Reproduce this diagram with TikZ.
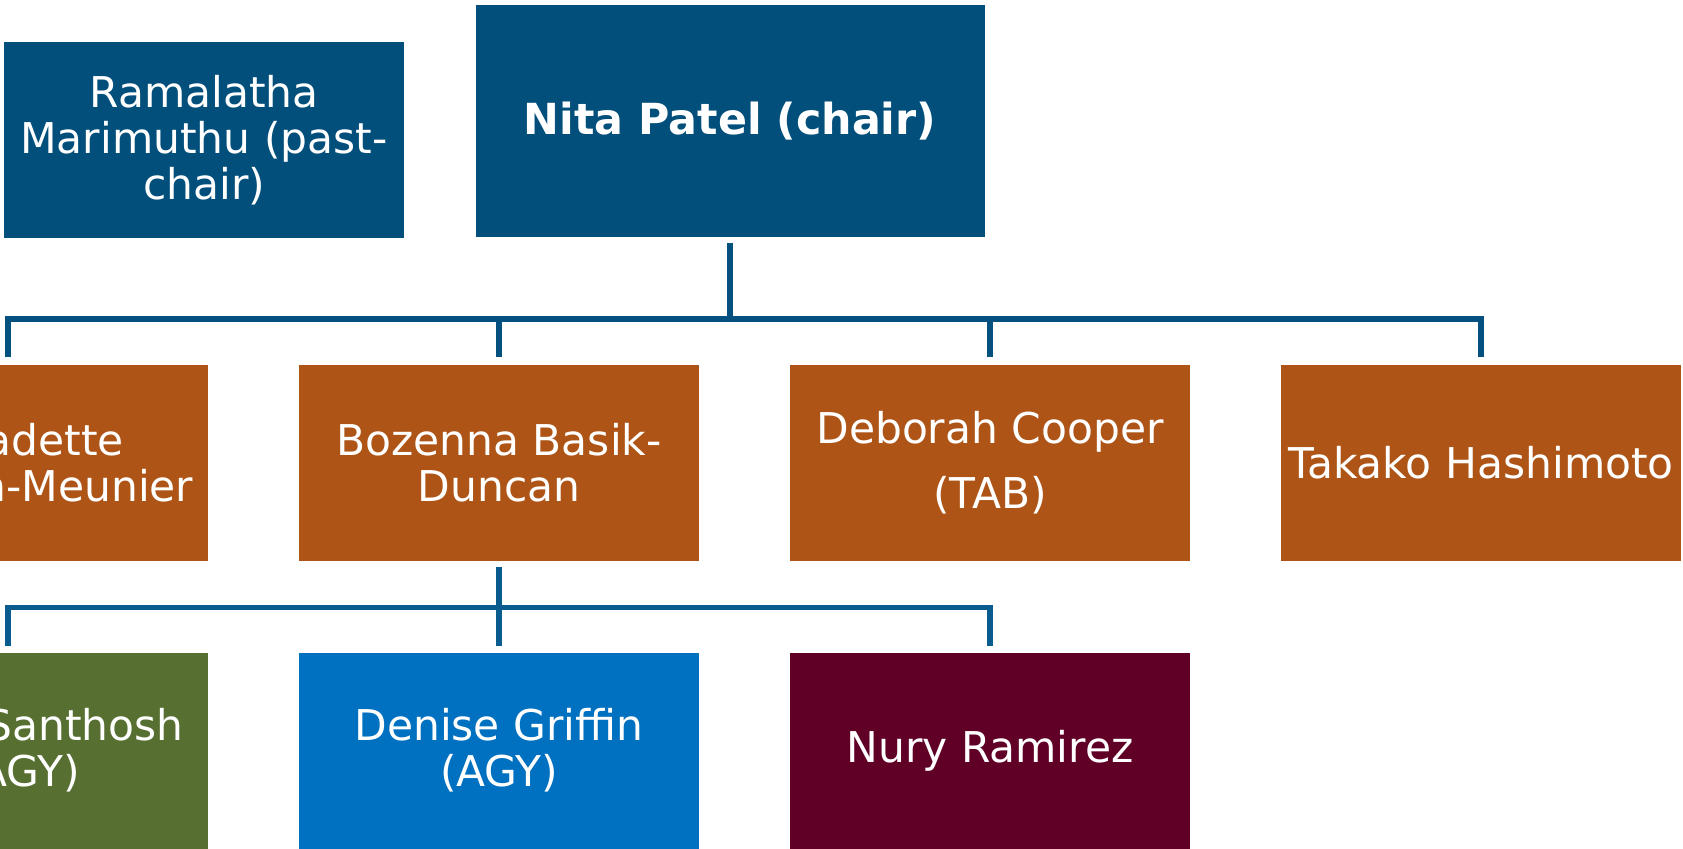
\documentclass[tikz,border=0pt]{standalone}
\usepackage{fontspec}
\setmainfont{DejaVu Sans}
\definecolor{chairblue}{HTML}{034F7B}
\definecolor{lineblue}{HTML}{04517F}
\definecolor{lineblueb}{HTML}{0A5C8F}
\definecolor{rust}{HTML}{AE5416}
\definecolor{olive}{HTML}{576F30}
\definecolor{azure}{HTML}{0070C0}
\definecolor{maroon}{HTML}{600027}
\tikzset{
  member/.style={rectangle, inner sep=0pt, minimum width=200pt, minimum height=98pt,
    text=white, align=center, font=\fontsize{21.2}{23}\selectfont},
  conn/.style={draw=lineblue, line width=2.8pt},
  connb/.style={draw=lineblueb, line width=2.8pt}
}
\begin{document}
\begin{tikzpicture}[x=0.5pt, y=-0.5pt]
\useasboundingbox (0,0) rectangle (1683,848);
\clip (0,0) rectangle (1683,848);
\node[member, fill=chairblue] (rama) at (204,140){Ramalatha\\Marimuthu (past-\\chair)};
\node[member, fill=chairblue, minimum width=254.5pt, minimum height=116pt, font=\fontsize{21.4}{23}\selectfont\bfseries] (nita) at (730,121){Nita Patel (chair)};
\node[member, fill=rust] (bern) at (8,463){\hspace*{2.2em}adette\\\hspace*{3.7em}n-Meunier};
\node[member, fill=rust] (bozenna) at (499,463){Bozenna Basik-\\Duncan};
\node[member, fill=rust, font=\fontsize{21.2}{32.5}\selectfont] (deborah) at (990,463){Deborah Cooper\\(TAB)};
\node[member, fill=rust] (takako) at (1481,463){Takako Hashimoto};
\node[member, fill=olive] (santhosh) at (8,750.6){\hspace*{3.6em}Santhosh\\\hspace*{1em}AGY)};
\node[member, fill=azure] (denise) at (499,750.6){Denise Griffin\\(AGY)};
\node[member, fill=maroon] (nury) at (990,750.6){Nury Ramirez};
\coordinate (bus1) at (730,319);
\coordinate (bus2) at (499,607.5);
\draw[conn]([yshift=-3pt]nita.south) -- (bus1);
\draw[conn]([yshift=4pt]bern.north) |- (takako.north |- bus1) -- ([yshift=4pt]takako.north);
\draw[conn](bozenna.north |- bus1) -- ([yshift=4pt]bozenna.north);
\draw[conn](deborah.north |- bus1) -- ([yshift=4pt]deborah.north);
\draw[connb]([yshift=-3pt]bozenna.south) -- (bus2);
\draw[connb]([yshift=3.3pt]santhosh.north) |- (nury.north |- bus2) -- ([yshift=3.3pt]nury.north);
\draw[connb](denise.north |- bus2) -- ([yshift=3.3pt]denise.north);
\end{tikzpicture}
\end{document}
